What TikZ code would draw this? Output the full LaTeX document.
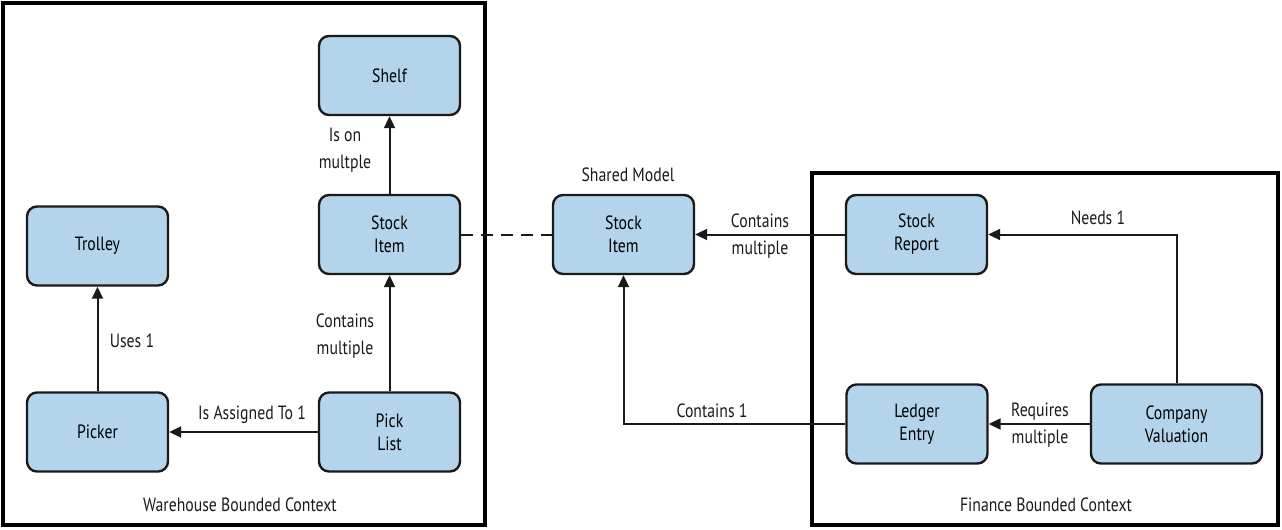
\documentclass[tikz,border=0pt]{standalone}
\usepackage{fontspec}
\setmainfont{PT Sans}[FakeStretch=0.82]
\usepackage{tikz}
\usetikzlibrary{arrows.meta}
\definecolor{boxfill}{HTML}{B3D4EA}
\definecolor{ink}{HTML}{1A1A1A}
\tikzset{
  entity/.style={draw=ink, fill=boxfill, line width=1.2pt, rounded corners=5pt,
    minimum width=70.5pt, minimum height=39.5pt, align=center,
    font=\fontsize{9.6}{11.5}\selectfont},
  rel/.style={draw=ink, line width=1pt, -{Triangle[length=6pt, width=5.5pt]}},
  shared/.style={draw=ink, line width=1pt, dash pattern=on 6pt off 4pt},
  ctx/.style={draw=black, line width=2pt},
  lab/.style={text=ink, align=center, font=\fontsize{9.6}{13.5}\selectfont},
}
\begin{document}
\begin{tikzpicture}[x=0.5pt, y=-0.5pt]
  \useasboundingbox (0,0) rectangle (1282,530);

  % bounded contexts
  \draw[ctx] (3,3) rectangle (485,525);
  \draw[ctx] (812,173) rectangle (1278,525);
  \node[lab] (whctx) at (240,505) {Warehouse Bounded Context};
  \node[lab] (finctx) at (1046,505) {Finance Bounded Context};

  % warehouse
  \node[entity] (shelf) at (389.5,75.5) {Shelf};
  \node[entity] (stockitem) at (389.5,234.5) {Stock\\Item};
  \node[entity] (trolley) at (97.5,246) {Trolley};
  \node[entity] (picker) at (97.5,432) {Picker};
  \node[entity] (picklist) at (389.5,432) {Pick\\List};

  % shared model
  \node[lab] (sharedlab) at (628,175) {Shared Model};
  \node[entity] (shareditem) at (623.5,234.5) {Stock\\Item};

  % finance
  \node[entity] (report) at (916.5,234.5) {Stock\\Report};
  \node[entity] (ledger) at (917,424) {Ledger\\Entry};
  \node[entity, minimum width=85.5pt] (valuation) at (1176.5,424) {Company\\Valuation};

  \draw[rel] (stockitem) -- (shelf);
  \draw[rel] (picklist) -- (stockitem);
  \draw[rel] (picker) -- (trolley);
  \draw[rel] (picklist) -- (picker);
  \draw[shared] (stockitem) -- (shareditem);
  \draw[rel] (report) -- (shareditem);
  \draw[rel] (ledger.west) -| (shareditem.south);
  \draw[rel] (valuation.north) |- (report.east);
  \draw[rel] (valuation) -- (ledger);

  \node[lab] (ison) at (345,150) {Is on\\multple};
  \node[lab] (contmult) at (345,336) {Contains\\multiple};
  \node[lab] (uses) at (132,341) {Uses 1};
  \node[lab] (assigned) at (252,415) {Is Assigned To 1};
  \node[lab] (contmult2) at (760,236) {Contains\\multiple};
  \node[lab] (contone) at (712,411) {Contains 1};
  \node[lab] (needs) at (1098,218) {Needs 1};
  \node[lab] (requires) at (1040,425) {Requires\\multiple};
\end{tikzpicture}
\end{document}
